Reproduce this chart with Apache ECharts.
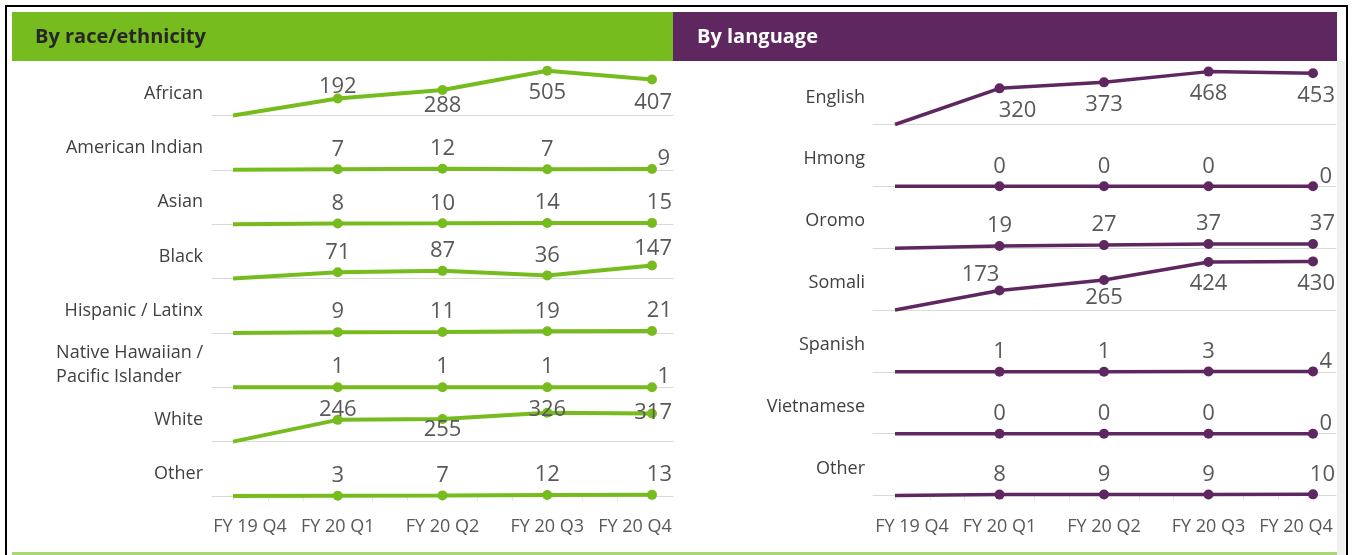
<!DOCTYPE html>
<html><head><meta charset="utf-8">
<script src="https://cdn.jsdelivr.net/npm/echarts@6/dist/echarts.min.js"></script>
<style>html,body{margin:0;padding:0;background:#fff}#c{width:1353px;height:555px}</style>
</head><body><div id="c"></div>
<script>
// ---------- DATA ----------
const categories = ['FY 19 Q4', 'FY 20 Q1', 'FY 20 Q2', 'FY 20 Q3', 'FY 20 Q4'];

const raceTitle = 'By race/ethnicity';
const raceLabels = ['African', 'American Indian', 'Asian', 'Black', 'Hispanic / Latinx',
  'Native Hawaiian /\nPacific Islander', 'White', 'Other'];
const raceAfrican = [0, 192, 288, 505, 407];
const raceAmericanIndian = [0, 7, 12, 7, 9];
const raceAsian = [0, 8, 10, 14, 15];
const raceBlack = [0, 71, 87, 36, 147];
const raceHispanic = [0, 9, 11, 19, 21];
const raceNativeHawaiian = [0, 1, 1, 1, 1];
const raceWhite = [0, 246, 255, 326, 317];
const raceOther = [0, 3, 7, 12, 13];

const langTitle = 'By language';
const langLabels = ['English', 'Hmong', 'Oromo', 'Somali', 'Spanish', 'Vietnamese', 'Other'];
const langEnglish = [0, 320, 373, 468, 453];
const langHmong = [0, 0, 0, 0, 0];
const langOromo = [0, 19, 27, 37, 37];
const langSomali = [0, 173, 265, 424, 430];
const langSpanish = [0, 1, 1, 3, 4];
const langVietnamese = [0, 0, 0, 0, 0];
const langOther = [0, 8, 9, 9, 10];

// ---------- LABEL PLACEMENT (style only) ----------
// [side, dx, dy, align]; first point carries no label
const T = ['t', 0, 0];
const raceLabelPos = [
  [null, ['t', 0, 8], ['b', 0, -6], ['b', 0, 0], ['b', 20, 1, 'right']],
  [null, T, T, T, ['t', 18, 10, 'right']],
  [null, T, T, T, ['t', 20, 0, 'right']],
  [null, T, T, T, ['t', 20, 3, 'right']],
  [null, T, T, T, ['t', 20, 0, 'right']],
  [null, T, T, T, ['t', 18, 10, 'right']],
  [null, ['t', 0, 10], ['b', 0, -11], ['t', 0, 17], ['t', 20, 19, 'right']],
  [null, T, T, T, ['t', 20, 0, 'right']]
];
const langLabelPos = [
  [null, ['b', 18, 0], ['b', 0, 0], ['b', 0, 0], ['b', 22, 0, 'right']],
  [null, T, T, T, ['t', 19, 10, 'right']],
  [null, T, T, T, ['t', 22, 0, 'right']],
  [null, ['t', -19, 4], ['b', 0, -4], ['b', 0, 0], ['b', 22, 0, 'right']],
  [null, T, T, T, ['t', 19, 10, 'right']],
  [null, T, T, T, ['t', 19, 10, 'right']],
  [null, T, T, T, ['t', 22, 0, 'right']]
];

// ---------- BUILD ----------
const FONT = '"Open Sans", "DejaVu Sans", sans-serif';
const GREEN = '#77bc1f', PURPLE = '#5e2760', TXT = '#595959';

const panels = [
  { names: raceLabels, values: [raceAfrican, raceAmericanIndian, raceAsian, raceBlack, raceHispanic, raceNativeHawaiian, raceWhite, raceOther],
    pos: raceLabelPos, color: GREEN, lineW: 4, max: 550, h: 48.7, base0: 115.5, baseN: 496,
    axisL: 212, axisR: 673, dataL: 233, dataR: 652, labelRight: 203, labelDy: 22 },
  { names: langLabels, values: [langEnglish, langHmong, langOromo, langSomali, langSpanish, langVietnamese, langOther],
    pos: langLabelPos, color: PURPLE, lineW: 3.5, max: 500, h: 56.5, base0: 124.5, baseN: 495.5,
    axisL: 873, axisR: 1336, dataL: 895, dataR: 1313, labelRight: 865, labelDy: 27 }
];

const grid = [], xAxis = [], yAxis = [], series = [], title = [];

function labelCfg(spec) {
  const side = spec[0], dx = spec[1], dy = spec[2], al = spec[3] || 'center';
  return {
    show: true, position: side === 't' ? 'top' : 'bottom', distance: side === 't' ? 4 : 6,
    offset: [dx, dy], align: al, color: TXT, fontSize: 22, fontFamily: FONT
  };
}

panels.forEach(p => {
  const n = p.values.length;
  const step = (p.baseN - p.base0) / (n - 1);
  p.values.forEach((vals, r) => {
    const baseY = p.base0 + r * step;
    const last = r === n - 1;
    // baseline grid
    let gi = grid.length;
    grid.push({ left: p.axisL, width: p.axisR - p.axisL, top: baseY - p.h, height: p.h });
    xAxis.push({ gridIndex: gi, type: 'category', data: categories, boundaryGap: false,
      axisLine: { show: true, lineStyle: { color: '#d9d9d9', width: 1 } },
      axisTick: { show: false }, axisLabel: { show: false }, splitLine: { show: false } });
    yAxis.push({ gridIndex: gi, type: 'value', min: 0, max: p.max, show: false });
    // data grid
    gi = grid.length;
    grid.push({ left: p.dataL, width: p.dataR - p.dataL, top: baseY - p.h, height: p.h });
    const xi = xAxis.length;
    xAxis.push({ gridIndex: gi, type: 'category', data: categories, boundaryGap: false, position: 'bottom',
      axisLine: { show: false }, axisTick: { show: false }, splitLine: { show: false },
      axisLabel: last ? {
        show: true, interval: 0, margin: 22, color: TXT, fontSize: 18, fontFamily: FONT,
        formatter: (v, i) => i === 0 ? '{f|' + v + '}' : (i === categories.length - 1 ? '{l|' + v + '}' : v),
        rich: {
          f: { padding: [0, 0, 0, 34], color: TXT, fontSize: 18, fontFamily: FONT },
          l: { padding: [0, 34, 0, 0], color: TXT, fontSize: 18, fontFamily: FONT }
        }
      } : { show: false } });
    if (last) {
      xAxis.push({ gridIndex: gi, type: 'value', min: 0, max: 12, interval: 1, position: 'bottom',
        axisLine: { show: false }, axisLabel: { show: false }, splitLine: { show: false },
        axisTick: { show: true, length: 5, lineStyle: { color: '#e6e6e6', width: 1 } } });
    }
    const yi = yAxis.length;
    yAxis.push({ gridIndex: gi, type: 'value', min: 0, max: p.max, show: false });
    series.push({
      type: 'line', name: p.names[r].replace('\n', ' '), xAxisIndex: xi, yAxisIndex: yi,
      clip: false, symbol: 'circle', symbolSize: 10, animation: false, silent: true,
      itemStyle: { color: p.color }, lineStyle: { color: p.color, width: p.lineW },
      data: vals.map((v, i) => i === 0
        ? { value: v, symbol: 'none', label: { show: false } }
        : { value: v, label: labelCfg(p.pos[r][i]) })
    });
    // row label
    const lines = p.names[r].split('\n').length;
    title.push({ text: p.names[r], right: 1353 - p.labelRight, top: baseY - p.labelDy - lines * 12, padding: 0,
      textStyle: { color: '#404040', fontSize: 18, fontWeight: 'normal', fontFamily: FONT, lineHeight: 24, align: 'right' } });
  });
});

const chart = echarts.init(document.getElementById('c'), null, { renderer: 'canvas' });
chart.setOption({
  backgroundColor: '#ffffff',
  animation: false,
  title, grid, xAxis, yAxis, series,
  graphic: [
    { type: 'rect', z: 0, shape: { x: 12, y: 12, width: 661, height: 49 }, style: { fill: GREEN } },
    { type: 'rect', z: 0, shape: { x: 673, y: 12, width: 664, height: 49 }, style: { fill: PURPLE } },
    { type: 'rect', z: 0, shape: { x: 1337, y: 61, width: 8, height: 494 }, style: { fill: '#f0f0f0' } },
    { type: 'rect', z: 0, shape: { x: 12, y: 552, width: 1325, height: 3 }, style: { fill: '#a9d873' } },
    { type: 'rect', z: 0, shape: { x: 6, y: 6, width: 1341, height: 600 }, style: { fill: null, stroke: '#000', lineWidth: 2 } },
    { type: 'text', z: 1, x: 35, y: 37, style: { text: raceTitle, fill: '#262626', font: 'bold 20px ' + FONT, textVerticalAlign: 'middle', verticalAlign: 'middle' } },
    { type: 'text', z: 1, x: 697, y: 37, style: { text: langTitle, fill: '#ffffff', font: 'bold 20px ' + FONT, textVerticalAlign: 'middle', verticalAlign: 'middle' } }
  ]
});
</script>
</body></html>
